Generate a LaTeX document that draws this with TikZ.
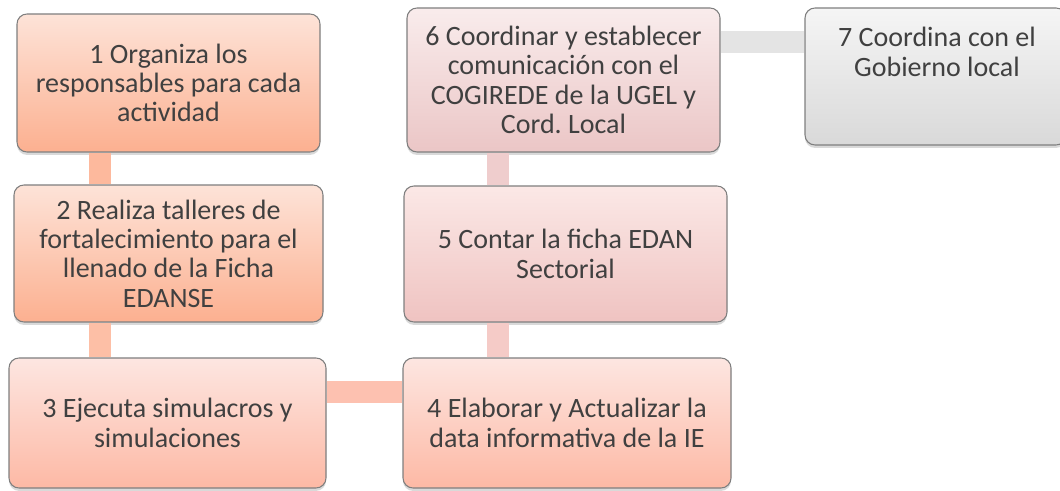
\documentclass[tikz,border=0pt]{standalone}
\usepackage{fontspec}
\setmainfont{Carlito}
\frenchspacing
\usetikzlibrary{shadows}
\definecolor{txtc}{HTML}{404040}
\definecolor{edge}{HTML}{7F7F7F}
\definecolor{aTop}{HTML}{FDE3D8}\definecolor{aBot}{HTML}{FCB090}
\definecolor{bTop}{HTML}{FDE6E1}\definecolor{bBot}{HTML}{FDB9A5}
\definecolor{cTop}{HTML}{FBE8E6}\definecolor{cBot}{HTML}{EFC3C1}
\definecolor{dTop}{HTML}{F9ECEC}\definecolor{dBot}{HTML}{EBC6C6}
\definecolor{eTop}{HTML}{F5F5F5}\definecolor{eBot}{HTML}{D9D9D9}
\definecolor{k12}{HTML}{FDB99D}\definecolor{k23}{HTML}{FDBFA6}
\definecolor{k34}{HTML}{FDC1B0}\definecolor{k45}{HTML}{F5CBC7}
\definecolor{k56}{HTML}{EFCDCD}\definecolor{k67}{HTML}{E4E4E4}
\tikzset{
  box/.style={draw=edge, line width=0.8pt, rounded corners=7.5pt,
    align=center, text=txtc, font=\fontsize{21pt}{22pt}\selectfont,
    inner sep=0pt,
    drop shadow={opacity=0.3, shadow xshift=0pt, shadow yshift=-2.2pt}},
  conn/.style={line width=16.5pt},
  lbl/.style={align=center, text=txtc, font=\fontsize{21pt}{22pt}\selectfont, inner sep=0pt}
}
\begin{document}
\begin{tikzpicture}[x=0.75pt,y=-0.75pt]
\useasboundingbox (0,0) rectangle (1060,491);
\coordinate (x12) at (100,0);
\coordinate (x456) at (498,0);
\coordinate (y34) at (0,392.5);
\coordinate (y67) at (0,42.5);
\path
 node[box, top color=aTop, bottom color=aBot, minimum width=227.25pt, minimum height=103.5pt] (b1) at (168.5,83)
   {1 Organiza los\\responsables para cada\\actividad}
 node[box, top color=aTop, bottom color=aBot, minimum width=231.75pt, minimum height=102.75pt] (b2) at (168.5,253.5)
   {2 Realiza talleres de\\fortalecimiento para el\\llenado de la Ficha\\EDANSE}
 node[box, top color=bTop, bottom color=bBot, minimum width=237.75pt, minimum height=97.5pt] (b3) at (167.5,423)
   {3 Ejecuta simulacros y\\simulaciones}
 node[box, top color=bTop, bottom color=bBot, minimum width=246pt, minimum height=97.5pt] (b4) at (567,423)
   {4 Elaborar y Actualizar la\\data informativa de la IE}
 node[box, top color=cTop, bottom color=cBot, minimum width=242.25pt, minimum height=102pt] (b5) at (565.5,254)
   {5 Contar la ficha EDAN\\Sectorial}
 node[box, top color=dTop, bottom color=dBot, minimum width=234.75pt, minimum height=108pt] (b6) at (563.5,80)
   {6 Coordinar y establecer\\comunicación con el\\COGIREDE de la UGEL y\\Cord. Local}
 node[box, top color=eTop, bottom color=eBot, minimum width=195.75pt, minimum height=102.75pt] (b7) at (935.5,76.5) {};
\node[lbl] (t7) at (937,52) {7 Coordina con el\\Gobierno local};
\draw[conn, k12] (b1.south -| x12) -- (b2.north -| x12);
\draw[conn, k23] (b2.south -| x12) -- (b3.north -| x12);
\draw[conn, k34, drop shadow={opacity=0.2, shadow xshift=0pt, shadow yshift=-2pt}] (b3.east |- y34) -- (b4.west |- y34);
\draw[conn, k45] (b4.north -| x456) -- (b5.south -| x456);
\draw[conn, k56] (b5.north -| x456) -- (b6.south -| x456);
\draw[conn, k67] (b6.east |- y67) -- (b7.west |- y67);
\end{tikzpicture}
\end{document}
